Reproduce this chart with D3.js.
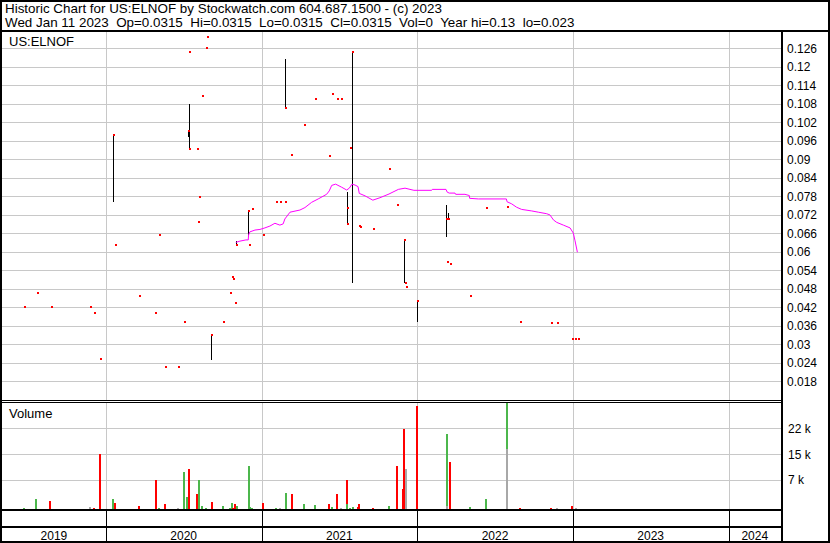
<!DOCTYPE html>
<html>
<head>
<meta charset="utf-8">
<script src="https://cdn.jsdelivr.net/npm/d3@7"></script>
<style>
  html, body { margin: 0; padding: 0; background: #fff; }
  svg text { font-family: "Liberation Sans", Arial, sans-serif; fill: #000; }
</style>
</head>
<body>
<svg id="chart" width="830" height="543"></svg>
<script>
// ---------- data ----------
const titleLine1 = "Historic Chart for US:ELNOF by Stockwatch.com 604.687.1500 - (c) 2023";
const titleLine2 = "Wed Jan 11 2023  Op=0.0315  Hi=0.0315  Lo=0.0315  Cl=0.0315  Vol=0  Year hi=0.13  lo=0.023";
const symbolLabel = "US:ELNOF";
const volumeLabel = "Volume";

const yearStarts = [2020, 2021, 2022, 2023, 2024];
const yearLabels = ["2019", "2020", "2021", "2022", "2023", "2024"];
const priceTicks = [0.126, 0.12, 0.114, 0.108, 0.102, 0.096, 0.09, 0.084, 0.078, 0.072, 0.066, 0.06, 0.054, 0.048, 0.042, 0.036, 0.03, 0.024, 0.018];
const priceTickLabels = ["0.126", "0.12", "0.114", "0.108", "0.102", "0.096", "0.09", "0.084", "0.078", "0.072", "0.066", "0.06", "0.054", "0.048", "0.042", "0.036", "0.03", "0.024", "0.018"];
const volTicks = [8000, 15000, 22000];
const volTickLabels = ["7 k", "15 k", "22 k"];

// price observations (decimal year), high / low / close
const priceT  = [2019.473, 2019.555, 2019.645, 2019.897, 2019.923, 2019.961, 2020.043, 2020.058, 2020.210, 2020.319,
                 2020.339, 2020.379, 2020.461, 2020.499, 2020.525, 2020.533, 2020.535, 2020.583, 2020.589, 2020.598,
                 2020.615, 2020.641, 2020.647, 2020.677, 2020.750, 2020.795, 2020.810, 2020.816, 2020.829, 2020.836,
                 2020.915, 2020.917, 2020.936, 2021.009, 2021.093, 2021.118, 2021.150, 2021.152, 2021.189, 2021.271,
                 2021.343, 2021.433, 2021.452, 2021.485, 2021.510, 2021.547, 2021.549, 2021.568, 2021.583, 2021.624,
                 2021.632, 2021.716, 2021.819, 2021.870, 2021.913, 2021.922, 2021.928, 2021.996, 2022.187, 2022.190,
                 2022.200, 2022.211, 2022.337, 2022.442, 2022.577, 2022.661, 2022.860, 2022.899, 2022.995, 2023.014,
                 2023.033];
const priceHi = [0.042, 0.0465, 0.042, 0.042, 0.040, 0.025, 0.098, 0.062, 0.0455, 0.040,
                 0.0655, 0.0226, 0.0226, 0.0372, 0.0995, 0.1248, 0.1079, 0.0934, 0.0697, 0.0778,
                 0.1106, 0.1262, 0.1298, 0.0329, 0.0372, 0.0466, 0.0518, 0.0512, 0.0434, 0.0633,
                 0.0732, 0.0621, 0.0738, 0.0655, 0.0761, 0.0761, 0.0761, 0.1225, 0.0914, 0.1011,
                 0.1095, 0.0910, 0.1113, 0.1095, 0.1095, 0.0793, 0.0742, 0.0936, 0.125, 0.0683,
                 0.068, 0.0673, 0.0868, 0.0751, 0.0638, 0.0498, 0.0485, 0.044, 0.0751, 0.0566,
                 0.0725, 0.056, 0.0456, 0.0742, 0.0745, 0.0372, 0.0368, 0.0368, 0.0315, 0.0315,
                 0.0315];
const priceLo = [0.042, 0.0465, 0.042, 0.042, 0.040, 0.025, 0.076, 0.062, 0.0455, 0.040,
                 0.0655, 0.0226, 0.0226, 0.0372, 0.0972, 0.1248, 0.0933, 0.0934, 0.0697, 0.0778,
                 0.1106, 0.1262, 0.1298, 0.0248, 0.0372, 0.0466, 0.0518, 0.0512, 0.0434, 0.0621,
                 0.0648, 0.0621, 0.0738, 0.0655, 0.0761, 0.0761, 0.0761, 0.1066, 0.0914, 0.1011,
                 0.1095, 0.0910, 0.1113, 0.1095, 0.1095, 0.069, 0.0742, 0.0936, 0.0499, 0.0683,
                 0.068, 0.0673, 0.0868, 0.0751, 0.0499, 0.0498, 0.0485, 0.0372, 0.0648, 0.0566,
                 0.0706, 0.056, 0.0456, 0.0742, 0.0745, 0.0372, 0.0368, 0.0368, 0.0315, 0.0315,
                 0.0315];
const priceCl = [0.042, 0.0465, 0.042, 0.042, 0.040, 0.025, 0.098, 0.062, 0.0455, 0.040,
                 0.0655, 0.0226, 0.0226, 0.0372, 0.0993, 0.1248, 0.0934, 0.0934, 0.0697, 0.0778,
                 0.1106, 0.1262, 0.1298, 0.0329, 0.0372, 0.0466, 0.0518, 0.0512, 0.0434, 0.0621,
                 0.0732, 0.0621, 0.0738, 0.0655, 0.0761, 0.0761, 0.0761, 0.1066, 0.0914, 0.1011,
                 0.1095, 0.0910, 0.1113, 0.1095, 0.1095, 0.069, 0.0742, 0.0936, 0.1248, 0.0683,
                 0.068, 0.0673, 0.0868, 0.0751, 0.0638, 0.0498, 0.0485, 0.044, 0.0706, 0.0566,
                 0.0706, 0.056, 0.0456, 0.0742, 0.0745, 0.0372, 0.0368, 0.0368, 0.0315, 0.0315,
                 0.0315];

// moving average line (magenta)
const maT = [2020.835, 2020.861, 2020.900, 2020.915, 2020.917, 2020.925, 2020.958, 2020.990, 2021.022, 2021.054,
             2021.086, 2021.118, 2021.139, 2021.150, 2021.183, 2021.247, 2021.279, 2021.322, 2021.364, 2021.418,
             2021.435, 2021.451, 2021.476, 2021.515, 2021.547, 2021.564, 2021.581, 2021.601, 2021.620, 2021.628,
             2021.665, 2021.715, 2021.761, 2021.819, 2021.879, 2021.922, 2021.979, 2022.093, 2022.097, 2022.185,
             2022.193, 2022.206, 2022.243, 2022.247, 2022.307, 2022.335, 2022.337, 2022.393, 2022.573, 2022.577,
             2022.607, 2022.639, 2022.671, 2022.736, 2022.778, 2022.832, 2022.853, 2022.875, 2022.896, 2022.939,
             2022.982, 2023.003, 2023.014, 2023.029];
const maV = [0.0630, 0.0634, 0.0638, 0.0638, 0.0654, 0.0664, 0.0670, 0.0672, 0.0677, 0.0683,
             0.0692, 0.0686, 0.0690, 0.0706, 0.0728, 0.0735, 0.0743, 0.0760, 0.0771, 0.0786,
             0.0797, 0.0815, 0.0819, 0.0809, 0.0800, 0.0806, 0.0819, 0.0816, 0.0811, 0.0789,
             0.0781, 0.0767, 0.0775, 0.0787, 0.0802, 0.0806, 0.0799, 0.0799, 0.0802, 0.0802,
             0.0793, 0.0790, 0.0790, 0.0786, 0.0786, 0.0782, 0.0773, 0.0771, 0.0771, 0.0762,
             0.0755, 0.0744, 0.0737, 0.0732, 0.0728, 0.0723, 0.0719, 0.0703, 0.0695, 0.0686,
             0.0677, 0.0660, 0.0635, 0.0598];

// volume (stacked: gray bottom, green, red top)
const volT = [2019.465, 2019.548, 2019.638, 2019.889, 2019.915, 2019.953, 2020.037, 2020.051, 2020.206, 2020.313,
              2020.332, 2020.371, 2020.454, 2020.493, 2020.514, 2020.529, 2020.580, 2020.591, 2020.611, 2020.636,
              2020.673, 2020.744, 2020.790, 2020.803, 2020.812, 2020.823, 2020.835, 2020.913, 2020.921, 2020.930,
              2021.003, 2021.086, 2021.111, 2021.148, 2021.187, 2021.266, 2021.337, 2021.427, 2021.447, 2021.479,
              2021.504, 2021.542, 2021.562, 2021.581, 2021.613, 2021.620, 2021.708, 2021.810, 2021.864, 2021.902,
              2021.909, 2021.919, 2021.990, 2022.183, 2022.203, 2022.333, 2022.436, 2022.571, 2022.654, 2022.853,
              2022.889, 2022.988, 2023.012];
const volRed = [0, 0, 2300, 0, 400, 15000, 0, 1800, 1000, 8000,
                0, 1500, 0, 0, 0, 11000, 4200, 0, 0, 0,
                2000, 0, 0, 0, 400, 1500, 0, 0, 0, 0,
                1800, 0, 0, 0, 4200, 0, 0, 1500, 0, 4200,
                0, 6500, 0, 0, 700, 1500, 400, 0, 11800, 5600,
                21800, 0, 28000, 0, 12900, 0, 0, 0, 400, 400,
                0, 1000, 0];
const volGreen = [400, 2800, 0, 0, 0, 0, 2800, 0, 0, 0,
                  400, 0, 0, 10200, 3400, 0, 0, 8000, 1000, 400,
                  0, 1000, 400, 1800, 0, 0, 1000, 11800, 700, 400,
                  0, 400, 0, 4500, 0, 1500, 1200, 0, 700, 0,
                  0, 1500, 400, 700, 0, 0, 0, 1000, 0, 0,
                  0, 0, 0, 19500, 0, 700, 2800, 15000, 0, 0,
                  0, 0, 0];
const volGray = [0, 0, 0, 700, 0, 0, 0, 0, 0, 0,
                 0, 0, 400, 0, 0, 0, 0, 0, 0, 0,
                 0, 0, 0, 0, 0, 0, 0, 0, 0, 0,
                 0, 0, 400, 0, 0, 0, 0, 0, 0, 0,
                 400, 0, 0, 0, 0, 0, 0, 0, 0, 0,
                 0, 11000, 0, 1000, 0, 0, 0, 16400, 0, 0,
                 400, 0, 400];

// ---------- layout ----------
const W = 830, H = 543;
const L = 2, R = 781;
const priceTop = 32, priceBottom = 400;
const volTop = 403, volBottom = 509.5;
const gridColor = "#c8c8c8";
const redC = "#ff0000", greenC = "#4cb74c", grayC = "#a8a8a8", maC = "#ff00ff";

const svg = d3.select("#chart");

const x = d3.scaleLinear().domain([2019.333, 2024.337]).range([L, R]);
const yP = d3.scaleLinear().domain([0.018, 0.126]).range([381, 48.3]);
const yV = d3.scaleLinear().domain([0, 22000]).range([volBottom, 428.3]);

svg.append("rect").attr("x", 0).attr("y", 0).attr("width", W).attr("height", H).attr("fill", "#fff");

// header
svg.append("text").attr("x", 5).attr("y", 13).attr("font-size", 13.4).text(titleLine1);
svg.append("text").attr("x", 5).attr("y", 27).attr("font-size", 13.4).style("white-space", "pre").text(titleLine2);

// clip paths
const defs = svg.append("defs");
defs.append("clipPath").attr("id", "clipP").append("rect")
  .attr("x", L).attr("y", priceTop).attr("width", R - L).attr("height", priceBottom - priceTop);
defs.append("clipPath").attr("id", "clipV").append("rect")
  .attr("x", L).attr("y", volTop).attr("width", R - L).attr("height", volBottom - volTop);

// price grid
const gP = svg.append("g");
gP.selectAll("line.h").data(priceTicks).join("line")
  .attr("x1", L).attr("x2", R)
  .attr("y1", d => Math.round(yP(d)) + 0.5).attr("y2", d => Math.round(yP(d)) + 0.5)
  .attr("stroke", gridColor).attr("stroke-width", 1);
gP.selectAll("line.v").data(yearStarts).join("line")
  .attr("x1", d => Math.round(x(d)) + 0.5).attr("x2", d => Math.round(x(d)) + 0.5)
  .attr("y1", priceTop).attr("y2", priceBottom)
  .attr("stroke", gridColor).attr("stroke-width", 1);

// volume grid
const gV = svg.append("g");
gV.selectAll("line.h").data(volTicks).join("line")
  .attr("x1", L).attr("x2", R)
  .attr("y1", d => Math.round(yV(d)) + 0.5).attr("y2", d => Math.round(yV(d)) + 0.5)
  .attr("stroke", gridColor).attr("stroke-width", 1);
gV.selectAll("line.v").data(yearStarts).join("line")
  .attr("x1", d => Math.round(x(d)) + 0.5).attr("x2", d => Math.round(x(d)) + 0.5)
  .attr("y1", volTop).attr("y2", volBottom)
  .attr("stroke", gridColor).attr("stroke-width", 1);

// panel labels
svg.append("text").attr("x", 9).attr("y", 46).attr("font-size", 13).text(symbolLabel);
svg.append("text").attr("x", 9).attr("y", 418).attr("font-size", 13).text(volumeLabel);

// price marks
const priceIdx = d3.range(priceT.length);
const gMarks = svg.append("g").attr("clip-path", "url(#clipP)");
gMarks.selectAll("line.bar").data(priceIdx.filter(i => priceHi[i] > priceLo[i])).join("line")
  .attr("x1", i => Math.round(x(priceT[i])) + 0.5).attr("x2", i => Math.round(x(priceT[i])) + 0.5)
  .attr("y1", i => Math.round(yP(priceHi[i]))).attr("y2", i => Math.round(yP(priceLo[i])))
  .attr("stroke", "#000").attr("stroke-width", 1).attr("shape-rendering", "crispEdges");

// moving average
const maIdx = d3.range(maT.length);
gMarks.append("path")
  .attr("d", d3.line().x(i => x(maT[i])).y(i => yP(maV[i]))(maIdx))
  .attr("fill", "none").attr("stroke", maC).attr("stroke-width", 1);

gMarks.selectAll("rect.dot").data(priceIdx).join("rect")
  .attr("x", i => Math.round(x(priceT[i]))).attr("y", i => Math.round(yP(priceCl[i])) - 1)
  .attr("width", 2).attr("height", 2).attr("fill", redC).attr("shape-rendering", "crispEdges");

// volume bars (stacked)
const volIdx = d3.range(volT.length);
const gVol = svg.append("g").attr("clip-path", "url(#clipV)");
const segs = [];
volIdx.forEach(i => {
  let base = 0;
  [[volGray[i], grayC], [volGreen[i], greenC], [volRed[i], redC]].forEach(([v, c]) => {
    if (v > 0) { segs.push({ t: volT[i], y0: base, y1: base + v, c }); base += v; }
  });
});
gVol.selectAll("rect").data(segs).join("rect")
  .attr("x", d => Math.round(x(d.t))).attr("width", 2)
  .attr("y", d => Math.round(yV(d.y1))).attr("height", d => Math.max(1, Math.round(yV(d.y0)) - Math.round(yV(d.y1))))
  .attr("fill", d => d.c).attr("shape-rendering", "crispEdges");

// right axis labels
svg.selectAll("text.pl").data(priceTicks).join("text")
  .attr("x", 787).attr("y", d => yP(d) + 4.5).attr("font-size", 12)
  .text((d, i) => priceTickLabels[i]);
svg.selectAll("text.vl").data(volTicks).join("text")
  .attr("x", 788).attr("y", d => yV(d) + 4.5).attr("font-size", 12)
  .text((d, i) => volTickLabels[i]);

// frame lines
const frame = svg.append("g").attr("stroke", "#000").attr("shape-rendering", "crispEdges");
frame.append("line").attr("x1", 0).attr("x2", W).attr("y1", 31).attr("y2", 31).attr("stroke-width", 2);
frame.append("line").attr("x1", 0).attr("x2", R).attr("y1", 400.5).attr("y2", 400.5).attr("stroke-width", 1);
frame.append("line").attr("x1", 0).attr("x2", R).attr("y1", 402.5).attr("y2", 402.5).attr("stroke-width", 1);
frame.append("line").attr("x1", 0).attr("x2", R).attr("y1", 510).attr("y2", 510).attr("stroke-width", 2);
frame.append("line").attr("x1", 0).attr("x2", R).attr("y1", 527).attr("y2", 527).attr("stroke-width", 2);
frame.append("line").attr("x1", R + 1).attr("x2", R + 1).attr("y1", 31).attr("y2", H).attr("stroke-width", 2);
frame.selectAll("line.ys").data(yearStarts).join("line")
  .attr("x1", d => Math.round(x(d)) + 0.5).attr("x2", d => Math.round(x(d)) + 0.5)
  .attr("y1", 510).attr("y2", H).attr("stroke-width", 1.5);
frame.append("rect").attr("x", 1).attr("y", 1).attr("width", W - 2).attr("height", H - 2)
  .attr("fill", "none").attr("stroke-width", 2);

// year labels
const bounds = [x.domain()[0], ...yearStarts, x.domain()[1]];
svg.selectAll("text.yr").data(yearLabels).join("text")
  .attr("x", (d, i) => (x(bounds[i]) + x(bounds[i + 1])) / 2)
  .attr("y", 540).attr("font-size", 12).attr("text-anchor", "middle")
  .text(d => d);
</script>
</body>
</html>
